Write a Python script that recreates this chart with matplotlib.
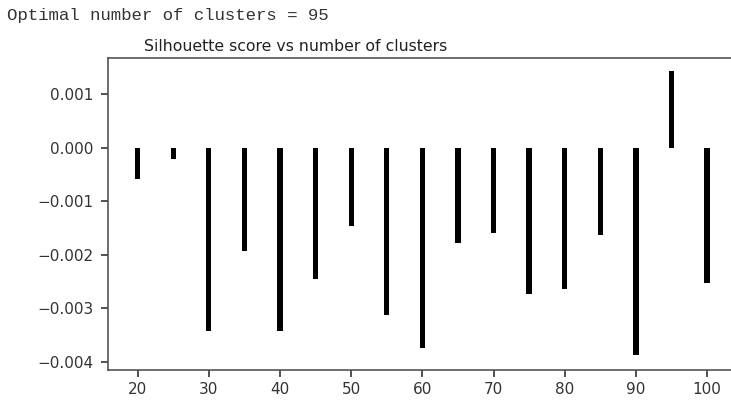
import matplotlib
matplotlib.use("Agg")
import matplotlib.pyplot as plt

# silhouette score per number of clusters
n_clusters = [20, 25, 30, 35, 40, 45, 50, 55, 60, 65, 70, 75, 80, 85, 90, 95, 100]
scores = [-0.00059, -0.00022, -0.00343, -0.00194, -0.00343, -0.00245, -0.00146,
          -0.00313, -0.00374, -0.00178, -0.00159, -0.00273, -0.00264, -0.00163,
          -0.00388, 0.001425, -0.00253]
x_ticks = [20, 30, 40, 50, 60, 70, 80, 90, 100]
y_ticks = [-0.004, -0.003, -0.002, -0.001, 0.0, 0.001]

best = n_clusters[scores.index(max(scores))]

fig = plt.figure(figsize=(7.31, 4.0), dpi=100)
ax = fig.add_axes([0.1473, 0.075, 0.861, 0.779])

ax.bar(n_clusters, scores, width=0.75, color="black")
ax.set_xlim(15.8, 104.2)
ax.set_ylim(-0.004156, 0.001666)
ax.set_xticks(x_ticks)
ax.set_yticks(y_ticks)
ax.set_yticklabels([f"{v:.3f}".replace("-", "\u2212") for v in y_ticks])
ax.tick_params(labelsize=11, colors="#333333", length=5, width=1.2)
ax.tick_params(axis="y", pad=5)
for s in ax.spines.values():
    s.set_color("#555555")
    s.set_linewidth(1.2)

fig.text(0.405, 0.8725, "Silhouette score vs number of clusters",
         ha="center", va="baseline", fontsize=11.3, color="#222222")
fig.text(0.01, 0.95, "Optimal number of clusters = " + str(best),
         ha="left", va="baseline", family="Liberation Mono", fontsize=12.5,
         color="#333333")

fig.savefig("out.png", dpi=100)
